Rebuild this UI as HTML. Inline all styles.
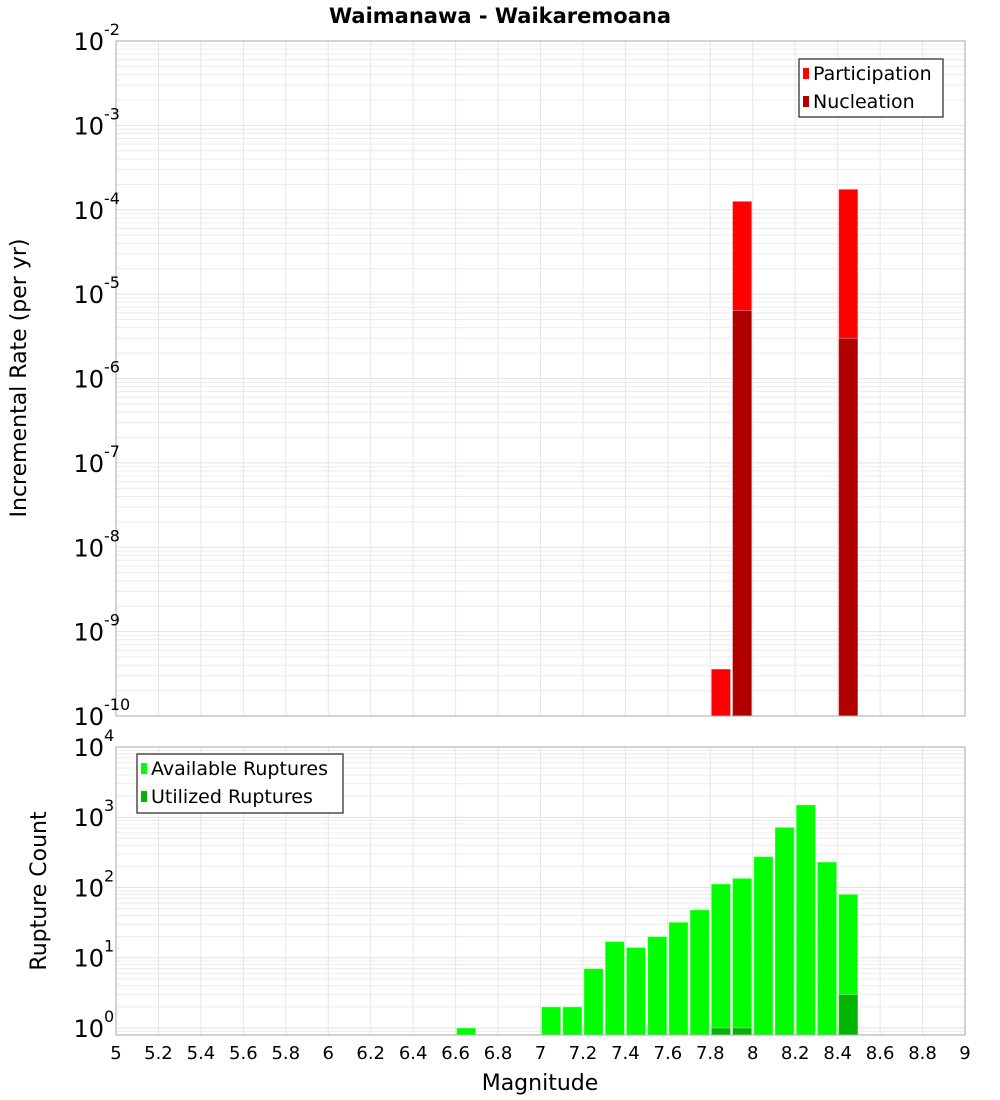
<!DOCTYPE html>
<html><head><meta charset="utf-8"><style>
html,body{margin:0;padding:0;background:#fff;}
svg{display:block;font-family:"DejaVu Sans","Liberation Sans",sans-serif;}
</style></head><body>
<svg id="c" width="1000" height="1100" xmlns="http://www.w3.org/2000/svg">
<text x="500" y="23" text-anchor="middle" font-size="21" font-weight="bold">Waimanawa - Waikaremoana</text>
<text transform="translate(26,378) rotate(-90)" text-anchor="middle" font-size="22">Incremental Rate (per yr)</text>
<text transform="translate(46,891) rotate(-90)" text-anchor="middle" font-size="22">Rupture Count</text>
<text x="540" y="1090" text-anchor="middle" font-size="22">Magnitude</text>
<g id="g"></g>
</svg>
<script>
// Top panel data
const topBins = [7.8, 7.9, 8.4];
const participation = [3.6e-10, 1.26e-4, 1.75e-4];
const nucleation = [0, 6.4e-6, 3.0e-6];
// Bottom panel data
const countBins = [6.6, 7.0, 7.1, 7.2, 7.3, 7.4, 7.5, 7.6, 7.7, 7.8, 7.9, 8.0, 8.1, 8.2, 8.3, 8.4];
const available = [1, 2, 2, 7, 17, 14, 20, 32, 48, 112, 135, 275, 720, 1500, 230, 80];
const utilized = [0, 0, 0, 0, 0, 0, 0, 0, 0, 1, 1, 0, 0, 0, 0, 3];
const xTicks = [5,5.2,5.4,5.6,5.8,6,6.2,6.4,6.6,6.8,7,7.2,7.4,7.6,7.8,8,8.2,8.4,8.6,8.8,9];
const topExps = [-2,-3,-4,-5,-6,-7,-8,-9,-10];
const botExps = [4,3,2,1,0];

const NS = "http://www.w3.org/2000/svg";
const g = document.getElementById('g');
function mk(tag, attrs, parent){const e=document.createElementNS(NS,tag);for(const k in attrs)e.setAttribute(k,attrs[k]);(parent||g).appendChild(e);return e;}
const X0=116, X1=965;
const xs = m => X0 + (m-5)/4*(X1-X0);
const T = {top:41, bot:716, lo:-10, hi:-2};
const B = {top:747, bot:1035, lo:-0.1, hi:4.0};
const ys = (P,v) => P.bot - (Math.log10(v)-P.lo)/(P.hi-P.lo)*(P.bot-P.top);

function panel(P, name){
  const r = mk('rect',{x:X0,y:P.top,width:X1-X0,height:P.bot-P.top,fill:'#fff'});
  
  
  for(let d=Math.floor(P.lo); d<Math.ceil(P.hi); d++){
    for(let k=1;k<10;k++){
      const v=k*Math.pow(10,d), lv=Math.log10(v);
      if(lv<P.lo||lv>P.hi) continue;
      const y=ys(P,v);
      const l=mk('line',{x1:X0,x2:X1,y1:y,y2:y,stroke:k===1?'#e2e2e2':'#ececec','stroke-width':1});
      
      
    }
  }
  xTicks.forEach(t=>{
    const l=mk('line',{x1:xs(t),x2:xs(t),y1:P.top,y2:P.bot,stroke:'#e6e6e6','stroke-width':1});
    
    
  });
}
panel(T,'top'); panel(B,'bottom');

function bar(P,m,v,fill,name){
  if(!(v>0)) return;
  const x=xs(m)+1, w=xs(m+0.1)-xs(m)-2, y=ys(P,v);
  const r=mk('rect',{x:x,y:y,width:w,height:P.bot-y,fill:fill,stroke:'rgba(255,255,255,0.35)','stroke-width':1});
  
  
}
topBins.forEach((m,i)=>{bar(T,m,participation[i],'#ff0000','participation-bar');});
topBins.forEach((m,i)=>{bar(T,m,nucleation[i],'#b00000','nucleation-bar');});
countBins.forEach((m,i)=>{bar(B,m,available[i],'#00ff00','available-bar');});
countBins.forEach((m,i)=>{bar(B,m,utilized[i],'#00b400','utilized-bar');});

[T,B].forEach((P,j)=>{
  const r=mk('rect',{x:X0,y:P.top,width:X1-X0,height:P.bot-P.top,fill:'none',stroke:'#aaa','stroke-width':1});
  
  
});

function expLabel(P,e,name){
  const y=ys(P,Math.pow(10,e));
  const t=mk('text',{x:104,y:y+9,'text-anchor':'end','font-size':24});
  t.textContent='10';
  
  
  const s=mk('text',{x:104,y:y-6,'font-size':16});
  s.textContent=String(e);
  
  
}
topExps.forEach(e=>expLabel(T,e,'top-y-tick-label'));
botExps.forEach(e=>expLabel(B,e,'bottom-y-tick-label'));
xTicks.forEach(t=>{
  const tx=mk('text',{x:xs(t),y:1059,'text-anchor':'middle','font-size':18});
  tx.textContent=String(t);
  
  
});

function legend(x,y,w,h,items,name){
  const lg=mk('g',{});
  
  
  mk('rect',{x:x,y:y,width:w,height:h,fill:'#fff',stroke:'#333','stroke-width':1.3},lg);
  items.forEach((it,i)=>{
    const cy=y+14+i*28;
    const sw=mk('rect',{x:x+4,y:cy-5,width:6,height:11,fill:it[1]},lg);
    
    
    const t=mk('text',{x:x+14,y:cy+7,'font-size':19},lg);
    t.textContent=it[0];
    
    
  });
}
legend(799,59,144,58,[['Participation','#ff0000'],['Nucleation','#b00000']],'top-legend');
legend(137,754,206,59,[['Available Ruptures','#00ff00'],['Utilized Ruptures','#00b400']],'bottom-legend');
</script>
</body></html>
